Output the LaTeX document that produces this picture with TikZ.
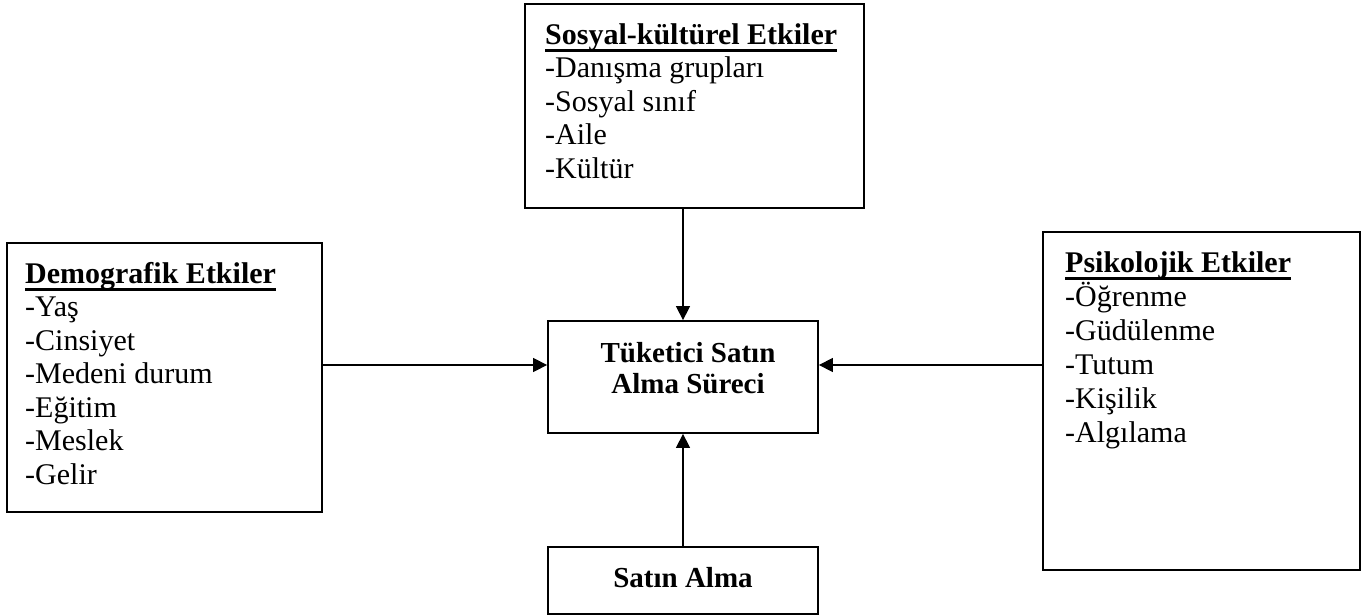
\documentclass[tikz,border=0pt]{standalone}
\usepackage{fontspec}
\setmainfont{Liberation Serif}
\usetikzlibrary{arrows.meta,calc}
\newcommand\hdul[1]{\leavevmode\setbox0\hbox{\textbf{#1}}\rlap{\rule[-8pt]{\wd0}{2.6pt}}\box0}
\begin{document}
\begin{tikzpicture}[x=1pt,y=-1pt,
  box/.style={draw, line width=1.8pt, inner sep=0pt},
  txt/.style={inner sep=0pt, anchor=base west, font=\fontsize{30}{33.5}\selectfont},
  ctxt/.style={inner sep=0pt, anchor=base, font=\fontsize{29}{31}\selectfont\bfseries},
  arr/.style={-{Triangle[length=14pt,width=14pt]}, line width=1.4pt}]
\useasboundingbox (0,0) rectangle (1366,616);
% boxes
\node[box, minimum width=339pt, minimum height=204pt] (soc) at (694.5,106) {};
\node[box, minimum width=315pt, minimum height=269pt] (demo) at (164.5,377.5) {};
\node[box, minimum width=317pt, minimum height=338pt] (psy) at (1201.5,401) {};
\node[box, minimum width=270pt, minimum height=112pt] (c) at (683,377) {};
\node[box, minimum width=270pt, minimum height=67pt] (buy) at (683,580.5) {};
% texts
\node[txt] (soct) at (545,44) {\parbox[t]{310pt}{\hdul{Sosyal-kültürel Etkiler}\\-Danışma grupları\\-Sosyal sınıf\\-Aile\\-Kültür}};
\node[txt] (demot) at (25,283) {\parbox[t]{290pt}{\hdul{Demografik Etkiler}\\-Yaş\\-Cinsiyet\\-Medeni durum\\-Eğitim\\-Meslek\\-Gelir}};
\node[txt, font=\fontsize{30}{34}\selectfont] (psyt) at (1065,272) {\parbox[t]{290pt}{\hdul{Psikolojik Etkiler}\\-Öğrenme\\-Güdülenme\\-Tutum\\-Kişilik\\-Algılama}};
\node[ctxt] (ct) at (688,362) {\parbox[t]{250pt}{\centering Tüketici Satın\\Alma Süreci}};
\node[ctxt] (bt) at (683,587) {Satın Alma};
% connectors
\coordinate (ay) at (0,365);
\draw[arr] (demo.east |- ay) -- (c.west |- ay);
\draw[arr] (psy.west |- ay) -- (c.east |- ay);
\draw[arr] (c.north |- soc.south) -- (c.north);
\draw[arr] (buy.north) -- (c.south);
\end{tikzpicture}
\end{document}
